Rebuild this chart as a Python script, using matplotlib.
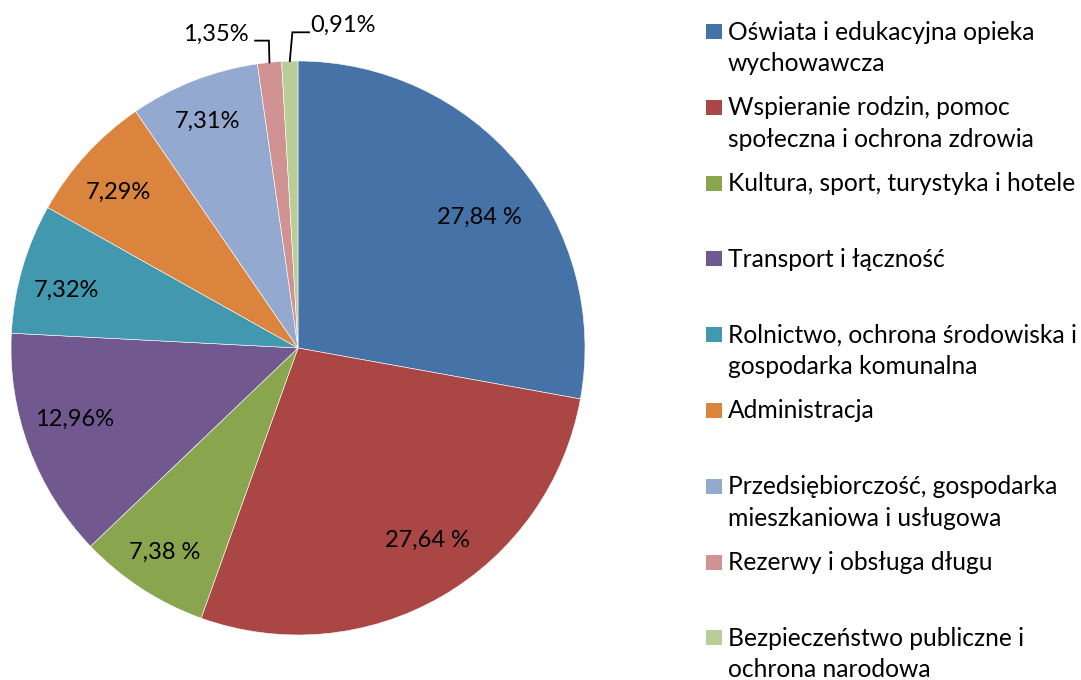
import matplotlib
matplotlib.use("Agg")
import matplotlib.pyplot as plt
from matplotlib.patches import Rectangle
import numpy as np

plt.rcParams['font.family'] = ['Lato', 'DejaVu Sans']

categories = [
    "Oświata i edukacyjna opieka\nwychowawcza",
    "Wspieranie rodzin, pomoc\nspołeczna i ochrona zdrowia",
    "Kultura, sport, turystyka i hotele",
    "Transport i łączność",
    "Rolnictwo, ochrona środowiska i\ngospodarka komunalna",
    "Administracja",
    "Przedsiębiorczość, gospodarka\nmieszkaniowa i usługowa",
    "Rezerwy i obsługa długu",
    "Bezpieczeństwo publiczne i\nochrona narodowa",
]
values = [27.84, 27.64, 7.38, 12.96, 7.32, 7.29, 7.31, 1.35, 0.91]
value_labels = ["27,84 %", "27,64 %", "7,38 %", "12,96%", "7,32%", "7,29%", "7,31%", "1,35%", "0,91%"]

colors = ["#4572A7", "#AA4643", "#89A54E", "#71588F", "#4198AF",
          "#DB843D", "#93A9CF", "#D19392", "#B9CD96"]
# label placement (style): radial factor and angular nudge in degrees
label_r = [0.784, 0.802, 0.845, 0.814, 0.834, 0.834, 0.856]
label_dtheta = [-3.7, 4.1, -0.4, -3.0, 1.7, 1.1, 0.2]

W, H = 1081, 680
fig = plt.figure(figsize=(W / 100, H / 100), dpi=100)
ax = fig.add_axes([11 / W, 45 / H, 574 / W, 574 / H])
wedges, _ = ax.pie(values, colors=colors, startangle=90, counterclock=False,
                   radius=1, wedgeprops=dict(edgecolor="white", linewidth=0.4))
ax.set_xlim(-1, 1)
ax.set_ylim(-1, 1)
ax.set_aspect("equal")
ax.axis("off")

FS = 17
for i, w in enumerate(wedges[:7]):
    mid = np.deg2rad((w.theta1 + w.theta2) / 2 + label_dtheta[i])
    r = label_r[i]
    ax.text(r * np.cos(mid), r * np.sin(mid), value_labels[i], ha="center",
            va="center_baseline", fontsize=FS, color="black")

# small slices with leader lines
mids = [np.deg2rad((w.theta1 + w.theta2) / 2) for w in wedges]
# 1,35%
m = mids[7]
x0, y0 = np.cos(m), np.sin(m)
ly = 1.071
ax.plot([x0, x0 - 0.002, x0 - 0.05], [y0, ly, ly], color="black", lw=1.3,
        clip_on=False, solid_joinstyle="miter")
ax.text(x0 - 0.072, ly, value_labels[7], ha="right", va="baseline", fontsize=FS)
# 0,91%
m = mids[8]
x0, y0 = np.cos(m), np.sin(m)
ly = 1.100
ax.plot([x0, x0 + 0.009, x0 + 0.067], [y0, ly, ly], color="black", lw=1.3,
        clip_on=False, solid_joinstyle="miter")
ax.text(x0 + 0.072, ly, value_labels[8], ha="left", va="baseline", fontsize=FS)

# legend
LFS = 17.7
y_first, dy, line_h = 31.5, 75.8, 31.5
for i, (lab, c) in enumerate(zip(categories, colors)):
    yc = y_first + i * dy
    fig.patches.append(Rectangle((706 / W, 1 - (yc + 7.5) / H), 16 / W, 15 / H,
                                 transform=fig.transFigure, facecolor=c, edgecolor="none"))
    for k, line in enumerate(lab.split("\n")):
        fig.text(728 / W, 1 - (yc + 8 + k * line_h) / H, line, ha="left",
                 va="baseline", fontsize=LFS)

fig.savefig("out.png", dpi=100)
